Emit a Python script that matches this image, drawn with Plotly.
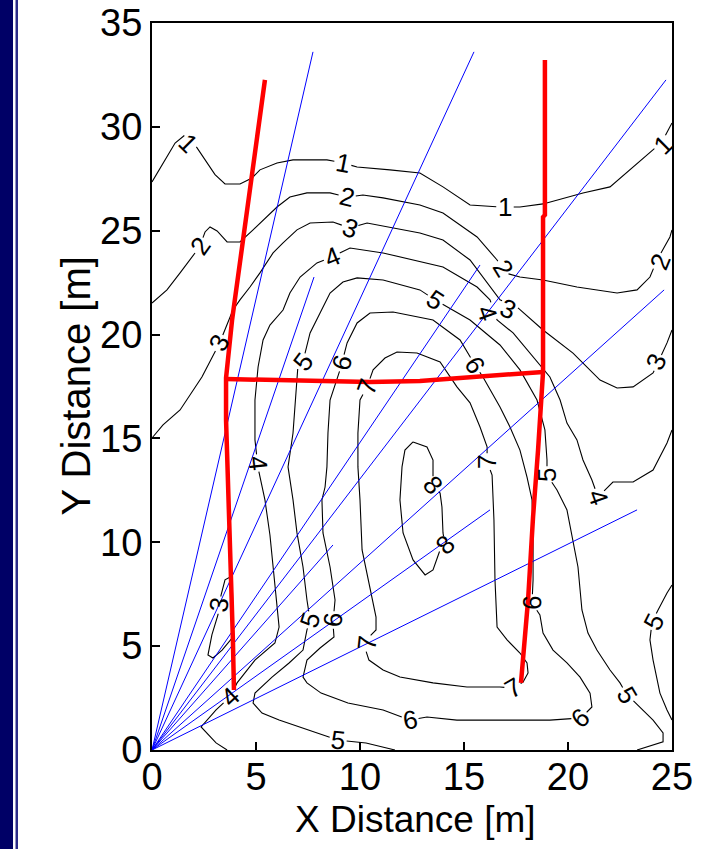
import math
import plotly.graph_objects as go

# ---------------- contour lines (data units, metres) ----------------
L1_x = [0, 0.63, 1.11, 1.59, 2.07, 2.55, 3.03, 3.51, 4.23, 4.81, 5.19, 6.01, 6.78, 8.41, 9.18, 9.86, 11.44, 12.88, 13.99, 15.29, 16.73, 17.69, 18.80, 20.72, 22.02, 22.98, 23.94, 24.57, 25.0]
L1_y = [27.35, 28.41, 29.22, 29.61, 29.13, 28.41, 27.70, 27.25, 27.25, 27.54, 27.93, 28.26, 28.41, 28.41, 28.26, 28.07, 27.93, 27.78, 27.11, 26.24, 26.14, 26.14, 26.29, 26.82, 27.11, 27.93, 28.74, 29.37, 30.19]

L2_x = [0, 0.72, 1.35, 1.83, 2.31, 2.55, 2.79, 3.13, 3.61, 4.23, 4.86, 5.53, 6.01, 6.63, 7.45, 8.56, 9.38, 10.14, 11.11, 12.88, 13.99, 15.63, 16.59, 16.97, 17.69, 18.80, 20.43, 22.36, 23.32, 23.94, 24.28, 24.90, 25.0]
L2_y = [21.52, 22.15, 22.97, 23.59, 24.27, 24.94, 25.18, 24.99, 24.46, 24.46, 25.04, 25.66, 26.14, 26.62, 26.82, 26.82, 26.62, 26.72, 26.58, 26.24, 25.85, 24.70, 23.59, 22.97, 22.77, 22.63, 22.29, 22.0, 22.15, 22.77, 23.59, 24.70, 25.04]

L3_x = [0, 0.53, 1.35, 2.40, 3.27, 3.89, 4.23, 4.71, 5.19, 5.82, 6.30, 6.97, 7.60, 8.70, 9.52, 10.34, 12.88, 13.99, 15.29, 16.25, 16.73, 17.55, 18.80, 20.24, 21.54, 22.36, 23.13, 24.09, 24.76, 25.0]
L3_y = [15.02, 15.65, 16.37, 17.96, 19.64, 21.18, 21.67, 22.29, 22.97, 23.93, 24.41, 25.04, 25.37, 25.42, 25.13, 25.37, 24.89, 24.55, 23.59, 22.29, 21.67, 21.33, 20.22, 19.11, 17.81, 17.43, 17.48, 18.15, 19.60, 20.22]

L3b_x = [3.85, 3.51, 3.32, 3.17, 2.88, 2.69, 2.93, 3.37, 3.85, 3.89, 3.85]
L3b_y = [8.38, 8.19, 7.46, 6.50, 5.54, 4.57, 4.43, 4.81, 5.39, 6.74, 8.38]

L4_x = [3.61, 3.08, 2.36, 3.08, 3.75, 4.09, 4.95, 5.91, 6.11, 5.96, 5.82, 5.67, 5.43, 5.10, 4.95, 4.95, 5.10, 5.34, 5.67, 6.30, 6.63, 7.12, 7.93, 8.65, 9.52, 11.11, 12.88, 13.99, 15.63, 16.25, 16.59, 17.36, 18.32, 19.13, 19.62, 19.95, 20.43, 20.72, 21.15, 21.44, 22.16, 23.13, 24.09, 24.76, 25.0]
L4_y = [0, 0.34, 1.11, 1.93, 2.55, 3.23, 4.33, 5.15, 5.92, 7.56, 8.81, 10.35, 12.04, 13.58, 14.93, 16.85, 18.44, 19.74, 20.46, 21.18, 22.0, 22.77, 23.45, 23.74, 24.17, 23.93, 23.5, 23.25, 22.29, 21.67, 20.70, 20.08, 18.92, 17.96, 16.85, 15.74, 14.93, 13.96, 13.0, 12.18, 12.9, 12.9, 13.48, 14.78, 15.41]

L5_x = [11.68, 10.29, 8.94, 7.26, 6.11, 5.29, 4.86, 4.95, 5.77, 6.59, 7.26, 7.45, 7.60, 7.45, 7.26, 6.97, 6.78, 6.54, 6.78, 6.88, 6.97, 7.26, 7.36, 7.60, 8.08, 8.56, 9.18, 9.86, 11.11, 12.88, 13.61, 15.29, 16.73, 17.69, 18.51, 18.89, 18.99, 18.99, 19.47, 19.95, 20.24, 20.48, 20.67, 20.96, 21.39, 22.02, 22.50, 22.84, 23.46, 24.09, 24.57, 24.57, 23.32]
L5_y = [0, 0.34, 0.48, 1.06, 1.44, 1.78, 2.26, 2.74, 3.51, 4.19, 4.81, 5.78, 6.26, 7.22, 8.81, 10.45, 12.04, 13.63, 15.26, 16.85, 18.30, 18.68, 19.11, 20.08, 21.04, 22.0, 22.53, 22.73, 22.63, 22.15, 21.67, 20.70, 19.50, 18.30, 16.85, 15.41, 13.96, 13.24, 12.52, 11.56, 10.11, 8.81, 6.74, 5.63, 4.81, 3.85, 3.23, 2.65, 2.07, 1.44, 0.82, 0.39, 0]

L5b_x = [25.0, 24.76, 24.33, 24.04, 23.94, 24.09, 24.42, 24.76, 25.0]
L5b_y = [7.94, 7.56, 6.74, 6.16, 5.30, 4.33, 2.74, 1.93, 1.44]

L6_x = [8.70, 8.80, 8.56, 8.22, 8.17, 8.32, 8.41, 8.46, 8.56, 9.04, 9.13, 9.38, 9.86, 10.48, 11.59, 13.51, 14.81, 15.53, 15.91, 16.73, 17.21, 17.69, 18.03, 18.27, 18.32, 18.32, 18.27, 18.65, 18.80, 19.28, 19.95, 20.58, 21.06, 21.15, 20.91, 20.58, 19.13, 16.73, 14.66, 13.22, 12.40, 11.11, 9.42, 8.13, 7.45, 7.26, 7.45, 8.08, 8.75, 8.70]
L6_y = [6.11, 7.22, 8.81, 10.45, 12.04, 12.66, 13.63, 15.26, 16.85, 18.30, 18.63, 19.60, 20.56, 21.04, 21.09, 20.70, 19.74, 18.54, 17.96, 16.51, 15.55, 14.44, 13.14, 12.04, 10.45, 8.18, 7.08, 6.50, 5.63, 4.81, 4.19, 3.51, 2.74, 2.07, 1.83, 1.54, 1.44, 1.44, 1.44, 1.59, 1.44, 1.93, 2.26, 2.74, 3.23, 3.51, 4.33, 4.91, 5.44, 6.11]

L7_x = [10.34, 10.63, 11.20, 11.78, 12.74, 13.85, 14.66, 15.29, 15.77, 16.11, 16.11, 16.35, 16.44, 16.49, 16.59, 17.07, 17.69, 18.03, 18.08, 17.84, 17.36, 16.73, 15.14, 13.51, 11.92, 11.11, 10.43, 10.29, 10.34, 10.43, 10.77, 10.77, 10.43, 10.10, 10.0, 9.90, 9.90, 10.0, 10.34]
L7_y = [17.48, 18.30, 18.87, 19.16, 19.11, 18.68, 17.48, 16.71, 15.55, 14.59, 13.87, 13.24, 11.07, 8.18, 5.92, 5.30, 4.67, 4.19, 3.71, 3.27, 2.99, 3.03, 3.03, 3.23, 3.51, 3.85, 4.33, 4.67, 5.15, 5.44, 5.78, 6.40, 8.04, 9.63, 12.04, 13.63, 15.26, 16.85, 17.48]

L8_x = [12.55, 12.16, 12.02, 11.92, 12.07, 12.55, 13.13, 13.51, 13.85, 14.09, 13.99, 13.94, 13.85, 13.51, 13.51, 13.22, 12.55]
L8_y = [14.83, 14.44, 13.63, 12.04, 10.45, 9.15, 8.43, 8.67, 9.63, 9.87, 10.45, 11.70, 12.37, 12.76, 13.96, 14.59, 14.83]

CONTOUR_LEVELS = [1, 2, 3, 3, 4, 5, 5, 6, 7, 8]
CONTOUR_XS = [L1_x, L2_x, L3_x, L3b_x, L4_x, L5_x, L5b_x, L6_x, L7_x, L8_x]
CONTOUR_YS = [L1_y, L2_y, L3_y, L3b_y, L4_y, L5_y, L5b_y, L6_y, L7_y, L8_y]

# ---------------- contour labels ----------------
LABEL_LEVEL = [1, 1, 1, 1,
               2, 2, 2, 2,
               3, 3, 3, 3, 3,
               4, 4, 4, 4, 4,
               5, 5, 5, 5, 5, 5, 5,
               6, 6, 6, 6, 6, 6,
               7, 7, 7, 7,
               8, 8]
LABEL_X = [1.73, 9.18, 16.97, 24.57,
           2.31, 9.38, 16.88, 24.42,
           3.22, 9.52, 17.12, 24.23, 3.22,
           8.65, 16.11, 5.10, 21.44, 3.75,
           7.26, 13.61, 7.60, 18.99, 22.84, 8.94, 24.13,
           9.13, 15.53, 18.27, 20.58, 12.40, 8.70,
           10.34, 16.11, 17.36, 10.34,
           13.51, 14.09]
LABEL_Y = [29.22, 28.26, 26.14, 29.13,
           24.27, 26.62, 23.20, 23.50,
           19.60, 25.13, 21.23, 18.68, 6.98,
           23.74, 21.04, 13.82, 12.18, 2.55,
           18.68, 21.67, 6.26, 13.24, 2.65, 0.48, 6.16,
           18.63, 18.54, 7.08, 1.54, 1.44, 6.26,
           17.48, 13.87, 2.99, 5.15,
           12.76, 9.87]

# ---------------- measurement rays from the origin ----------------
RAY_END_X = [7.74, 7.79, 15.48, 15.77, 24.71, 8.70, 24.62, 16.25, 23.32]
RAY_END_Y = [33.61, 22.77, 33.61, 23.35, 32.26, 9.87, 22.15, 11.56, 11.56]

# ---------------- red walls ----------------
RED_LEFT_X = [5.43, 5.10, 4.71, 4.23, 3.85, 3.65, 3.56, 3.56, 3.61, 3.65, 3.75, 3.80, 3.89, 3.94]
RED_LEFT_Y = [32.26, 29.85, 26.96, 23.83, 20.70, 18.78, 17.91, 15.89, 13.96, 12.04, 10.11, 8.18, 5.30, 2.89]
RED_MID_X = [3.56, 7.12, 10.48, 12.88, 15.77, 18.80]
RED_MID_Y = [17.86, 17.81, 17.72, 17.77, 17.96, 18.20]
RED_RIGHT_X = [18.89, 18.89, 18.80, 18.80, 18.56, 18.32, 18.08, 17.88, 17.74]
RED_RIGHT_Y = [33.22, 25.76, 25.66, 18.20, 14.44, 11.22, 7.22, 4.48, 3.23]

X_TICKS = [0, 5, 10, 15, 20, 25]
Y_TICKS = [0, 5, 10, 15, 20, 25, 30, 35]

FONT = "Liberation Sans, Arial, Helvetica, sans-serif"
GAP = 0.42  # half length of the line break under each label (m)


def arc(xs, ys):
    s = [0.0]
    for i in range(1, len(xs)):
        s.append(s[-1] + math.hypot(xs[i] - xs[i - 1], ys[i] - ys[i - 1]))
    return s


def locate(level, lx, ly):
    """nearest contour of that level: (contour index, arc position, angle)"""
    best = None
    for ci, (lev, xs, ys) in enumerate(zip(CONTOUR_LEVELS, CONTOUR_XS, CONTOUR_YS)):
        if lev != level:
            continue
        s = arc(xs, ys)
        for i in range(len(xs) - 1):
            dx, dy = xs[i + 1] - xs[i], ys[i + 1] - ys[i]
            L2 = dx * dx + dy * dy
            t = 0.0 if L2 == 0 else max(0.0, min(1.0, ((lx - xs[i]) * dx + (ly - ys[i]) * dy) / L2))
            px, py = xs[i] + t * dx, ys[i] + t * dy
            d = (px - lx) ** 2 + (py - ly) ** 2
            if best is None or d < best[0]:
                best = (d, ci, s[i] + t * math.sqrt(L2), dx, dy)
    ang = math.degrees(math.atan2(best[4], best[3]))
    while ang > 90:
        ang -= 180
    while ang <= -90:
        ang += 180
    return best[1], best[2], -ang


def broken(xs, ys, gaps):
    s = arc(xs, ys)
    total = s[-1]
    closed = abs(xs[0] - xs[-1]) < 1e-9 and abs(ys[0] - ys[-1]) < 1e-9
    allg = []
    for a, b in gaps:
        allg.append((a, b))
        if closed:
            allg.append((a + total, b + total))
            allg.append((a - total, b - total))
    cand = set(s)
    for a, b in allg:
        for v in (a, b):
            if 0 < v < total:
                cand.add(v)
    cand = sorted(cand)

    def pt(v):
        for i in range(len(s) - 1):
            if s[i] <= v <= s[i + 1]:
                f = 0 if s[i + 1] == s[i] else (v - s[i]) / (s[i + 1] - s[i])
                return xs[i] + f * (xs[i + 1] - xs[i]), ys[i] + f * (ys[i + 1] - ys[i])
        return xs[-1], ys[-1]

    ox, oy = [], []
    prev = False
    for i in range(len(cand) - 1):
        a, b = cand[i], cand[i + 1]
        m = (a + b) / 2
        drawn = not any(g0 < m < g1 for g0, g1 in allg)
        if drawn:
            if not prev:
                if ox:
                    ox.append(None)
                    oy.append(None)
                p = pt(a)
                ox.append(p[0]); oy.append(p[1])
            p = pt(b)
            ox.append(p[0]); oy.append(p[1])
        prev = drawn
    return ox, oy


label_info = [locate(lev, lx, ly) for lev, lx, ly in zip(LABEL_LEVEL, LABEL_X, LABEL_Y)]
gaps_by_contour = {i: [] for i in range(len(CONTOUR_XS))}
for ci, s0, _ in label_info:
    gaps_by_contour[ci].append((s0 - GAP, s0 + GAP))

fig = go.Figure()

for ci, (xs, ys) in enumerate(zip(CONTOUR_XS, CONTOUR_YS)):
    bx, by = broken(xs, ys, gaps_by_contour[ci])
    fig.add_trace(go.Scatter(x=bx, y=by, mode="lines",
                             line=dict(color="black", width=1.1),
                             connectgaps=False,
                             hoverinfo="skip", showlegend=False))

for ex, ey in zip(RAY_END_X, RAY_END_Y):
    fig.add_trace(go.Scatter(x=[0, ex], y=[0, ey], mode="lines",
                             line=dict(color="#0000ff", width=1),
                             hoverinfo="skip", showlegend=False))

for xs, ys in [(RED_LEFT_X, RED_LEFT_Y), (RED_MID_X, RED_MID_Y), (RED_RIGHT_X, RED_RIGHT_Y)]:
    fig.add_trace(go.Scatter(x=xs, y=ys, mode="lines",
                             line=dict(color="#ff0000", width=4.5),
                             hoverinfo="skip", showlegend=False))

for (lev, lx, ly), (_, _, ang) in zip(zip(LABEL_LEVEL, LABEL_X, LABEL_Y), label_info):
    fig.add_annotation(x=lx, y=ly, text=str(lev), showarrow=False,
                       textangle=ang, xanchor="center", yanchor="middle",
                       font=dict(family=FONT, size=26, color="black"))

# axis titles
fig.add_annotation(xref="paper", yref="paper", x=0.506, y=-0.0955,
                   xanchor="center", yanchor="middle",
                   text="X Distance [m]", showarrow=False,
                   font=dict(family=FONT, size=37, color="black"))
fig.add_annotation(xref="paper", yref="paper", x=-0.148, y=0.5,
                   xanchor="center", yanchor="middle",
                   text="Y Distance [m]", showarrow=False, textangle=-90,
                   font=dict(family=FONT, size=40, color="black"))

# navy frame strip on the left edge of the slide
fig.add_shape(type="rect", xref="paper", yref="paper",
              x0=-0.35, x1=-0.2673, y0=-0.2, y1=1.1,
              fillcolor="#000066", line=dict(width=0), layer="below")
fig.add_shape(type="rect", xref="paper", yref="paper",
              x0=-0.2625, x1=-0.2577, y0=-0.2, y1=1.1,
              fillcolor="#2a2a88", line=dict(width=0), layer="below")

axis_common = dict(showgrid=False, zeroline=False, showline=True, mirror=True,
                   automargin=False,
                   linecolor="black", linewidth=2, ticks="inside", ticklen=8,
                   tickwidth=1.5, tickcolor="black",
                   tickfont=dict(family=FONT, size=38, color="black"))

fig.update_layout(
    width=717, height=849,
    margin=dict(l=152, r=45, t=23, b=99, autoexpand=False),
    paper_bgcolor="white", plot_bgcolor="white",
    xaxis=dict(range=[0, 25], tickvals=X_TICKS, ticklabelstandoff=-8, **axis_common),
    yaxis=dict(range=[0, 35], tickvals=Y_TICKS, **axis_common),
    showlegend=False,
)

fig.write_html("out.html", config={"displayModeBar": False},
               post_script="document.body.style.margin='0px';document.body.style.padding='0px';")
